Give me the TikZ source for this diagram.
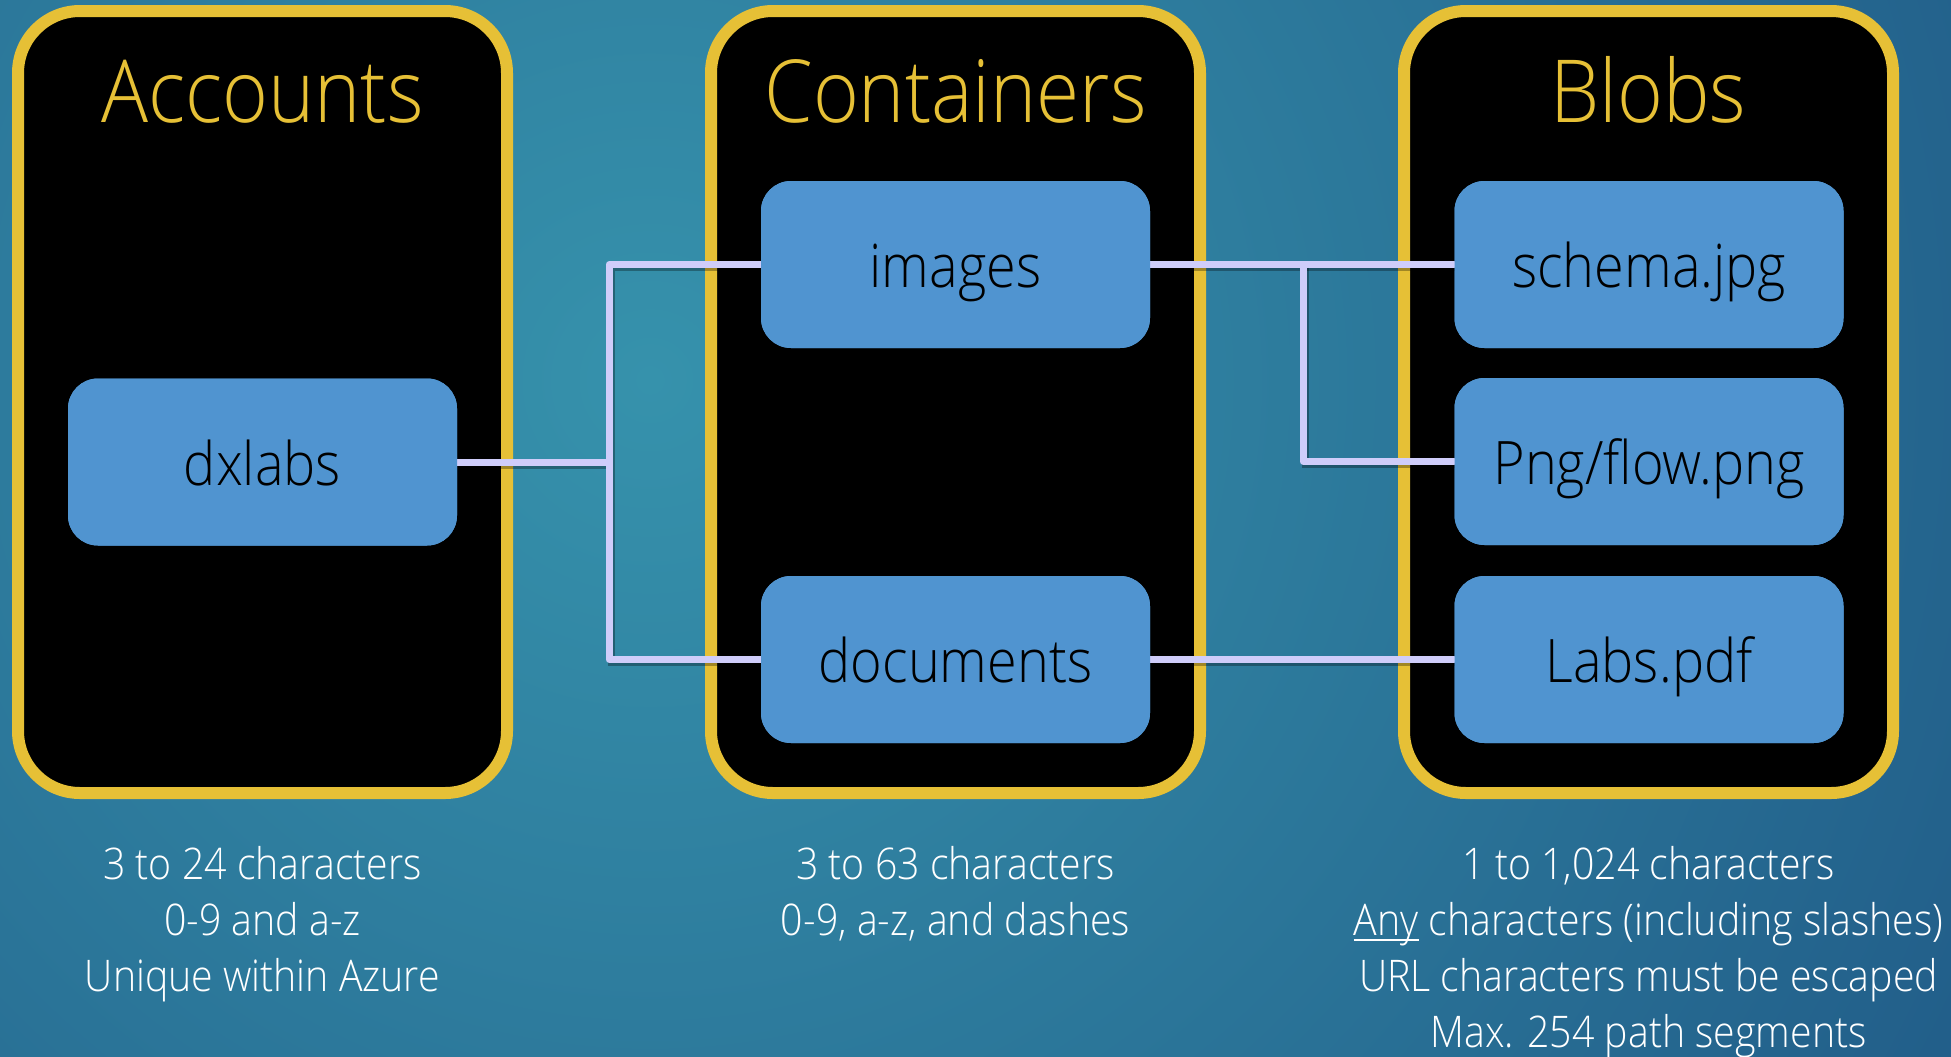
\documentclass[tikz,border=0pt]{standalone}
\usepackage{fontspec}
\IfFontExistsTF{Open Sans Light}
  {\setmainfont{Open Sans Light}[FakeStretch=0.9]}
  {\setmainfont{Open Sans}[FakeStretch=0.9]}
\definecolor{bgteal}{RGB}{54,146,172}
\definecolor{bgnavy}{RGB}{14,44,104}
\definecolor{panelgold}{RGB}{230,192,54}
\definecolor{boxblue}{RGB}{80,148,208}
\definecolor{wirelav}{RGB}{207,205,250}
% underline with a firmer rule, set just below the baseline
\newcommand\firmul[1]{\leavevmode\setbox0\hbox{#1}%
  \rlap{\rule[-0.14em]{\wd0}{0.06em}}\box0\relax}
\tikzset{
  panel/.style={draw=panelgold, line width=6pt, fill=black, rounded corners=31pt,
    minimum width=244.5pt, minimum height=391pt, inner sep=0pt},
  paneltitle/.style={text=panelgold, anchor=base, inner sep=0pt,
    font=\fontsize{43.5}{50}\selectfont},
  item/.style={fill=boxblue, rounded corners=15pt, minimum width=194.5pt,
    minimum height=83.5pt, inner sep=0pt, text=black, text height=23pt,
    text depth=0pt, font=\fontsize{30}{36}\selectfont},
  wire/.style={draw=wirelav, line width=3.5pt, line cap=round, line join=round,
    preaction={draw=black, opacity=0.3, line width=3.5pt,
      transform canvas={shift={(1pt,-1.5pt)}}}},
  foot/.style={text=white, anchor=base, inner sep=0pt,
    font=\fontsize{21.8}{28}\selectfont},
}
\begin{document}
\begin{tikzpicture}[x=0.5pt, y=-0.5pt]
\useasboundingbox (0,0) rectangle (1951,1056);

% background: radial teal-to-navy wash
\begin{scope}
  \clip (0,0) rectangle (1951,1056);
  \shade[inner color=bgteal, outer color=bgnavy]
    (-2250,-2520) rectangle (3550,3280);
\end{scope}

% the three storage levels
\node[panel] (accP) at (262.5,402) {};
\node[panel] (conP) at (955.5,402) {};
\node[panel] (blbP) at (1648.5,402) {};

\node[paneltitle] (accT) at (262.5,122) {Accounts};
\node[paneltitle] (conT) at (955.5,122) {Containers};
\node[paneltitle] (blbT) at (1648.5,122) {Blobs};

% junction points of the tree
\coordinate (jA) at (609,462);
\coordinate (jB) at (1303,264.5);

% item boxes (placed first for the wire anchors)
\path
  node[item] (dxlabs) at (262.5,462) {dxlabs}
  node[item] (images) at (955.5,264.5) {images}
  node[item] (documents) at (955.5,659.5) {documents}
  node[item] (schema) at (1649,264.5) {schema.jpg}
  node[item] (png) at (1649,461.5) {Png/flow.png}
  node[item] (labs) at (1649,659.5) {Labs.pdf};

% connectors
\draw[wire] (dxlabs.east) -- (jA |- dxlabs.east);
\draw[wire] (images.west) -- (jA |- images.west) -- (jA |- documents.west) -- (documents.west);
\draw[wire] (images.east) -- (schema.west);
\draw[wire] (jB |- images.east) -- (jB |- png.west) -- (png.west);
\draw[wire] (documents.east) -- (labs.west);

% redraw boxes above the wire ends
\path
  node[item] at (dxlabs) {dxlabs}
  node[item] at (images) {images}
  node[item] at (documents) {documents}
  node[item] at (schema) {schema.jpg}
  node[item] at (png) {Png/flow.png}
  node[item] at (labs) {Labs.pdf};

% naming rules under each level
\node[foot] (acc1) at (262.5,879) {3 to 24 characters};
\node[foot] (acc2) at (262.5,935) {0-9 and a-z};
\node[foot] (acc3) at (262.5,991) {Unique within Azure};

\node[foot] (con1) at (955.5,879) {3 to 63 characters};
\node[foot] (con2) at (955.5,935) {0-9, a-z, and dashes};

\node[foot] (blb1) at (1648.5,879) {1 to 1,024 characters};
\node[foot] (blb2) at (1648.5,935) {\firmul{Any} characters (including slashes)};
\node[foot] (blb3) at (1648.5,991) {URL characters must be escaped};
\node[foot] (blb4) at (1648.5,1047) {Max. 254 path segments};
\end{tikzpicture}
\end{document}
